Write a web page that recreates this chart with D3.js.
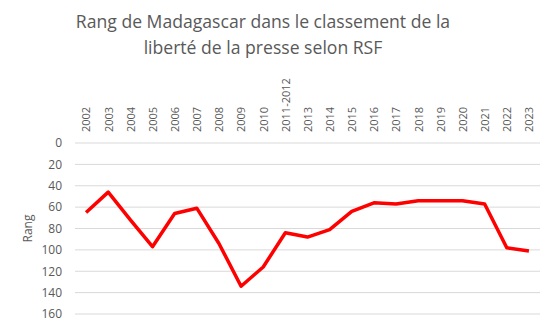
<!DOCTYPE html>
<html>
<head>
<meta charset="utf-8">
<script src="https://cdn.jsdelivr.net/npm/d3@7"></script>
<style>
  body { margin: 0; background: #fff; }
  text { font-family: "Open Sans", Roboto, sans-serif; fill: #595959; }
</style>
</head>
<body>
<script>
// Rang RSF de Madagascar, par année
const years = ["2002", "2003", "2004", "2005", "2006", "2007", "2008", "2009", "2010", "2011-2012",
  "2013", "2014", "2015", "2016", "2017", "2018", "2019", "2020", "2021", "2022", "2023"];
const ranks = [65, 46, 72, 97, 66, 61, 94, 134, 116, 84, 88, 81, 64, 56, 57, 54, 54, 54, 57, 98, 101];
const yTicks = [0, 20, 40, 60, 80, 100, 120, 140, 160];
const titleLines = ["Rang de Madagascar dans le classement de la", "liberté de la presse selon RSF"];

const width = 550, height = 329;
const margin = {top: 143, right: 10, bottom: 15, left: 75};

const svg = d3.select("body").append("svg")
  .attr("width", width)
  .attr("height", height);

// title
svg.append("g")
  .selectAll("text")
  .data(titleLines)
  .enter().append("text")
  .attr("x", 263)
  .attr("y", (d, i) => 28 + i * 26)
  .attr("text-anchor", "middle")
  .style("font-size", "17.6px")
  .text(d => d);

const x = d3.scalePoint()
  .domain(years)
  .range([margin.left, width - margin.right])
  .padding(0.5);

const y = d3.scaleLinear()
  .domain([0, 160])
  .range([margin.top, height - margin.bottom]);

// gridlines
svg.append("g")
  .selectAll("line")
  .data(yTicks)
  .enter().append("line")
  .attr("x1", margin.left)
  .attr("x2", width - margin.right)
  .attr("y1", d => y(d))
  .attr("y2", d => y(d))
  .attr("stroke", "#d9d9d9")
  .attr("stroke-width", 1);

// y axis labels
const yAxis = svg.append("g")
  .attr("transform", `translate(${margin.left - 13},0)`)
  .call(d3.axisLeft(y).tickValues(yTicks).tickSize(0).tickPadding(0));
yAxis.select(".domain").remove();
yAxis.selectAll("text")
  .style("font-size", "12px")
  .style("font-family", "\"Open Sans\", Roboto, sans-serif")
  .attr("fill", "#595959");

// x axis labels (on top, rotated)
const xAxis = svg.append("g")
  .attr("transform", `translate(0,${margin.top - 11})`)
  .call(d3.axisTop(x).tickSize(0).tickPadding(0));
xAxis.select(".domain").remove();
xAxis.selectAll("text")
  .attr("transform", "rotate(-90)")
  .attr("text-anchor", "start")
  .attr("x", 0)
  .attr("y", 0)
  .attr("dy", "0.35em")
  .style("font-size", "11px")
  .style("font-family", "\"Open Sans\", Roboto, sans-serif")
  .attr("fill", "#595959");

// axis title
svg.append("text")
  .attr("transform", `translate(32,${(margin.top + height - margin.bottom) / 2}) rotate(-90)`)
  .attr("text-anchor", "middle")
  .style("font-size", "12px")
  .text("Rang");

// line
const line = d3.line()
  .x((d, i) => x(years[i]))
  .y(d => y(d));

svg.append("path")
  .datum(ranks)
  .attr("d", line)
  .attr("fill", "none")
  .attr("stroke", "#ff0000")
  .attr("stroke-width", 3.5)
  .attr("stroke-linejoin", "round");
</script>
</body>
</html>
